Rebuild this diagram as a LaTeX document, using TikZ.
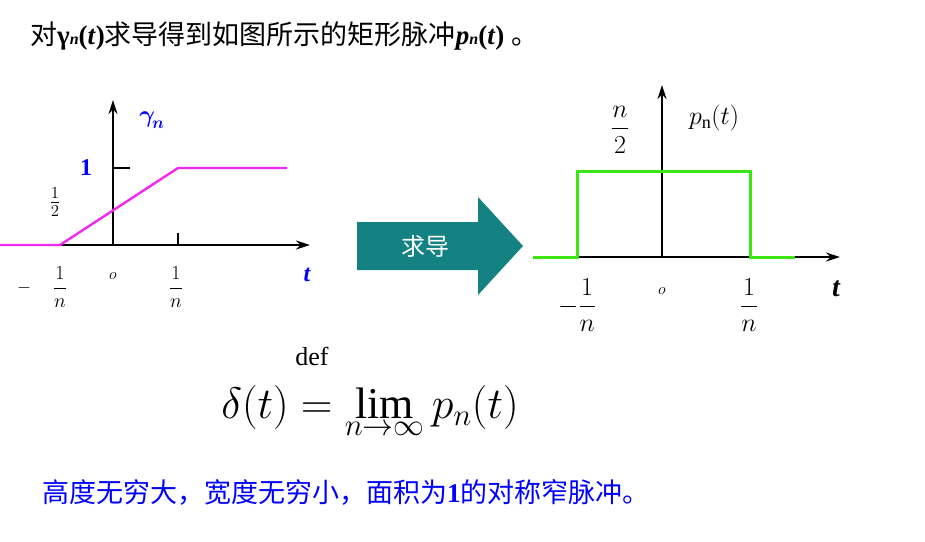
\RequirePackage{fix-cm}
\documentclass[tikz,border=0pt]{standalone}
\usepackage{amsmath}
\usepackage{fontspec}
\setmainfont{Liberation Serif}
\newfontfamily\cjk{Noto Sans CJK SC}
\usetikzlibrary{arrows.meta}
\definecolor{mag}{RGB}{240,40,240}
\definecolor{grn}{RGB}{60,230,20}
\definecolor{teal2}{RGB}{20,130,130}
\tikzset{ax/.style={line width=1.6pt,-{Stealth[length=14pt,width=9pt]}},
 lbl/.style={inner sep=0pt,font=\fontsize{24}{26}\selectfont},
 blu/.style={text=blue}}
\begin{document}
\begin{tikzpicture}[x=1pt,y=-1pt]
\useasboundingbox (0,0) rectangle (925,541);
\node[anchor=west,inner sep=0pt,font=\fontsize{27}{30}\selectfont] (title) at (30,36) {{\cjk 对}\textbf{γ\textit{\fontsize{16}{18}\selectfont n}(\textit{t})}{\cjk 求导得到如图所示的矩形脉冲}\textbf{\textit{p\fontsize{16}{18}\selectfont n}(\textit{t})}\ {\cjk 。}};
% left graph
\coordinate (lo) at (0,245); \coordinate (le) at (310,245);
\coordinate (yb) at (113,245); \coordinate (yt) at (113,100);
\draw[ax] (lo) -- (le);
\draw[ax] (yb) -- (yt);
\draw[mag,line width=2.4pt] (0,245) -- (60,245) -- (178,168) -- (287,168);
\draw[line width=1.2pt] (113,168) -- (130,168);
\draw[line width=1.2pt] (178,245) -- (178,233);
\node[lbl,blu,font=\bfseries\fontsize{24}{26}\selectfont] (one) at (86,168) {1};
\node[lbl,font=\fontsize{24}{26}\selectfont] (half) at (55,202) {$\frac{1}{2}$};
\node[lbl,blu] (gam) at (152,120) {$\boldsymbol{\gamma}_{\!\boldsymbol{n}}$};
\node[lbl] (mi) at (24,288) {\fontsize{18}{20}\selectfont$-$};
\node[lbl,font=\fontsize{20}{22}\selectfont] (ln) at (60,287) {$\dfrac{1}{n}$};
\node[lbl,font=\fontsize{16}{18}\selectfont] (o1) at (113,276) {$o$};
\node[lbl,font=\fontsize{20}{22}\selectfont] (rn) at (176,287) {$\dfrac{1}{n}$};
\node[lbl,blu,font=\bfseries\itshape\fontsize{24}{26}\selectfont] (t1) at (307,275) {t};
% arrow
\fill[teal2] (357,222) -- (478,222) -- (478,197) -- (523,246) -- (478,295) -- (478,270) -- (357,270) -- cycle;
\node[text=white,font=\cjk\fontsize{24}{26}\selectfont] (qd) at (425,246) {求导};
% right graph
\coordinate (ro) at (533,257); \coordinate (re) at (840,257);
\coordinate (ryb) at (662,257); \coordinate (ryt) at (662,85);
\draw[ax] (ro) -- (re);
\draw[ax] (ryb) -- (ryt);
\draw[grn,line width=3pt] (533,257) -- (577,257) -- (577,171) -- (750,171) -- (750,257) -- (795,257);
\node[lbl,font=\fontsize{26}{28}\selectfont] (n2) at (620,130) {$\dfrac{n}{2}$};
\node[lbl,font=\fontsize{26}{28}\selectfont] (pn) at (714,118) {$p_{\mathrm{n}}(t)$};
\node[lbl,font=\fontsize{26}{28}\selectfont] (mn) at (577,305) {$-\dfrac{1}{n}$};
\node[lbl,font=\fontsize{16}{18}\selectfont] (o2) at (662,291) {$o$};
\node[lbl,font=\fontsize{26}{28}\selectfont] (pn1) at (749,305) {$\dfrac{1}{n}$};
\node[lbl,font=\bfseries\itshape\fontsize{28}{30}\selectfont] (t2) at (836,289) {t};
% formula
\node[lbl,font=\fontsize{26}{28}\selectfont] (def) at (312,356) {def};
\node[lbl,font=\fontsize{44}{46}\selectfont] (form) at (370,412) {$\delta(t)=\lim\limits_{n\to\infty} p_n(t)$};
\node[anchor=west,inner sep=0pt,text=blue,font=\fontsize{27}{30}\selectfont] (bot) at (42,492) {{\cjk 高度无穷大，宽度无穷小，面积为}\textbf{1}{\cjk 的对称窄脉冲。}};
\end{tikzpicture}
\end{document}
